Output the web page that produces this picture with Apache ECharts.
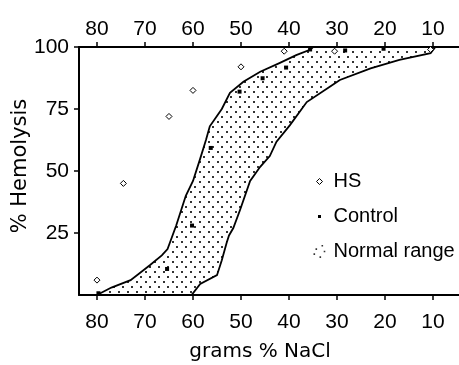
<!DOCTYPE html>
<html>
<head>
<meta charset="utf-8">
<script src="https://cdn.jsdelivr.net/npm/echarts@6/dist/echarts.min.js"></script>
<style>
html,body{margin:0;padding:0;background:#fff;}
#chart{width:459px;height:365px;}
</style>
</head>
<body>
<div id="chart"></div>
<script>
// ---- data ----
var xTickLabels = [80, 70, 60, 50, 40, 30, 20, 10];
var yTickLabels = [25, 50, 75, 100];

var hsX = [80, 74.5, 65, 60, 50, 41, 30.5, 10.5];
var hsY = [6, 45, 72, 82.5, 92, 98.3, 98.3, 99];

var controlX = [79.7, 65.4, 60.2, 56.3, 50.3, 45.5, 40.6, 35.6, 28.3, 20.3];
var controlY = [0.7, 10.5, 28, 59.3, 82, 87.4, 91.7, 99, 98.6, 99.3];

// Normal range: upper (left) boundary from bottom to top, then lower (right) boundary from top to bottom
var rangeUpperX = [80, 77, 73, 69, 66.5, 65.3, 63.5, 61.5, 60, 58.5, 57.3, 56.5, 54, 52.3, 49.5, 46, 42, 38.5, 35.5, 35, 9.5];
var rangeUpperY = [0, 3, 6, 12, 16, 18.5, 28, 40, 46, 55, 62.5, 68, 75, 81.5, 86, 90, 93.5, 96.7, 99, 100, 100];
var rangeLowerX = [10.5, 17, 23, 29.4, 31.5, 36.3, 39.8, 42.6, 44, 46, 48.1, 50.2, 51.6, 52.5, 53, 54, 55, 58.5, 60.3];
var rangeLowerY = [97.5, 94.8, 91.4, 86.7, 84, 77.8, 68.5, 61.8, 56, 51.7, 46, 34.3, 27, 24, 21, 14, 8, 4.5, 0];

function pairs(xs, ys) { return xs.map(function (x, i) { return [x, ys[i]]; }); }

// dotted pattern
var pc = document.createElement('canvas');
pc.width = 9; pc.height = 10;
var pctx = pc.getContext('2d');
pctx.fillStyle = '#333';
pctx.fillRect(1, 1, 2, 2);
pctx.fillRect(5, 6, 2, 2);
var dotPattern = { image: pc, repeat: 'repeat' };

var labelFont = 'Liberation Sans';
var axisCommon = {
  type: 'value',
  inverse: true,
  min: 4.58,
  max: 83.75,
  axisLine: { show: true, lineStyle: { color: '#000', width: 2 } },
  axisTick: { show: true, length: 5, customValues: xTickLabels, lineStyle: { color: '#000', width: 1.5 } },
  splitLine: { show: false }
};

var chart = echarts.init(document.getElementById('chart'));
chart.setOption({
  animation: false,
  backgroundColor: '#fff',
  grid: { left: 79, right: 0, top: 47, bottom: 70 },
  xAxis: [
    Object.assign({}, axisCommon, {
      position: 'bottom',
      axisLabel: { customValues: xTickLabels, margin: 17, color: '#000', fontFamily: labelFont, fontSize: 21 }
    }),
    Object.assign({}, axisCommon, {
      position: 'top',
      axisLabel: { customValues: xTickLabels, margin: 7, color: '#000', fontFamily: labelFont, fontSize: 21 }
    })
  ],
  yAxis: {
    type: 'value', min: 0, max: 100,
    axisLine: { show: true, lineStyle: { color: '#000', width: 2 } },
    axisTick: { show: true, length: 5, customValues: yTickLabels, lineStyle: { color: '#000', width: 1.5 } },
    axisLabel: { customValues: yTickLabels, margin: 10, color: '#000', fontFamily: labelFont, fontSize: 21, padding: [5, 0, 0, 0] },
    splitLine: { show: false }
  },
  legend: {
    orient: 'vertical',
    left: 310, top: 171, padding: 0,
    itemWidth: 18, itemHeight: 14, itemGap: 14,
    textStyle: { fontFamily: labelFont, fontSize: 20, color: '#000', lineHeight: 21 },
    data: [
      { name: 'HS', icon: 'path://M0 0M18 14M9 4L12 7L9 10L6 7Z',
        itemStyle: { color: '#fff', borderColor: '#000', borderWidth: 1 } },
      { name: 'Control', icon: 'path://M0 0M18 14M7.5 5.5L10.5 5.5L10.5 8.5L7.5 8.5Z',
        itemStyle: { color: '#000', borderWidth: 0 } },
      { name: 'Normal range', icon: 'path://M0 0M18 14M11 0.5h1.6v1.6h-1.6ZM5 3.8h1.6v1.6h-1.6ZM13.2 6.2h1.6v1.6h-1.6ZM3 8.8h1.6v1.6h-1.6ZM9 11.8h1.6v1.6h-1.6Z',
        itemStyle: { color: '#333', borderWidth: 0 } }
    ]
  },
  graphic: [
    { type: 'text', x: 21, y: 166, rotation: Math.PI / 2,
      style: { text: '% Hemolysis', font: '21px "DejaVu Sans"', fill: '#000', align: 'center', verticalAlign: 'middle' } },
    { type: 'text', x: 260, y: 352,
      style: { text: 'grams % NaCl', font: '20px "DejaVu Sans"', fill: '#000', align: 'center', verticalAlign: 'middle' } }
  ],
  series: [
    {
      name: 'Normal range',
      type: 'custom',
      xAxisIndex: 0,
      yAxisIndex: 0,
      data: [[0]],
      z: 1,
      itemStyle: { color: dotPattern },
      renderItem: function (params, api) {
        var pts = pairs(rangeUpperX, rangeUpperY).concat(pairs(rangeLowerX, rangeLowerY)).map(function (p) { return api.coord(p); });
        return {
          type: 'polygon',
          shape: { points: pts },
          style: { fill: dotPattern, stroke: '#000', lineWidth: 1.8 }
        };
      }
    },
    {
      name: 'HS',
      type: 'scatter',
      data: pairs(hsX, hsY),
      symbol: 'diamond',
      symbolSize: 6,
      z: 3,
      itemStyle: { color: '#fff', borderColor: '#000', borderWidth: 1, opacity: 1 }
    },
    {
      name: 'Control',
      type: 'scatter',
      data: pairs(controlX, controlY),
      symbol: 'rect',
      symbolSize: 4,
      z: 3,
      itemStyle: { color: '#000', opacity: 1 }
    }
  ]
});
</script>
</body>
</html>
